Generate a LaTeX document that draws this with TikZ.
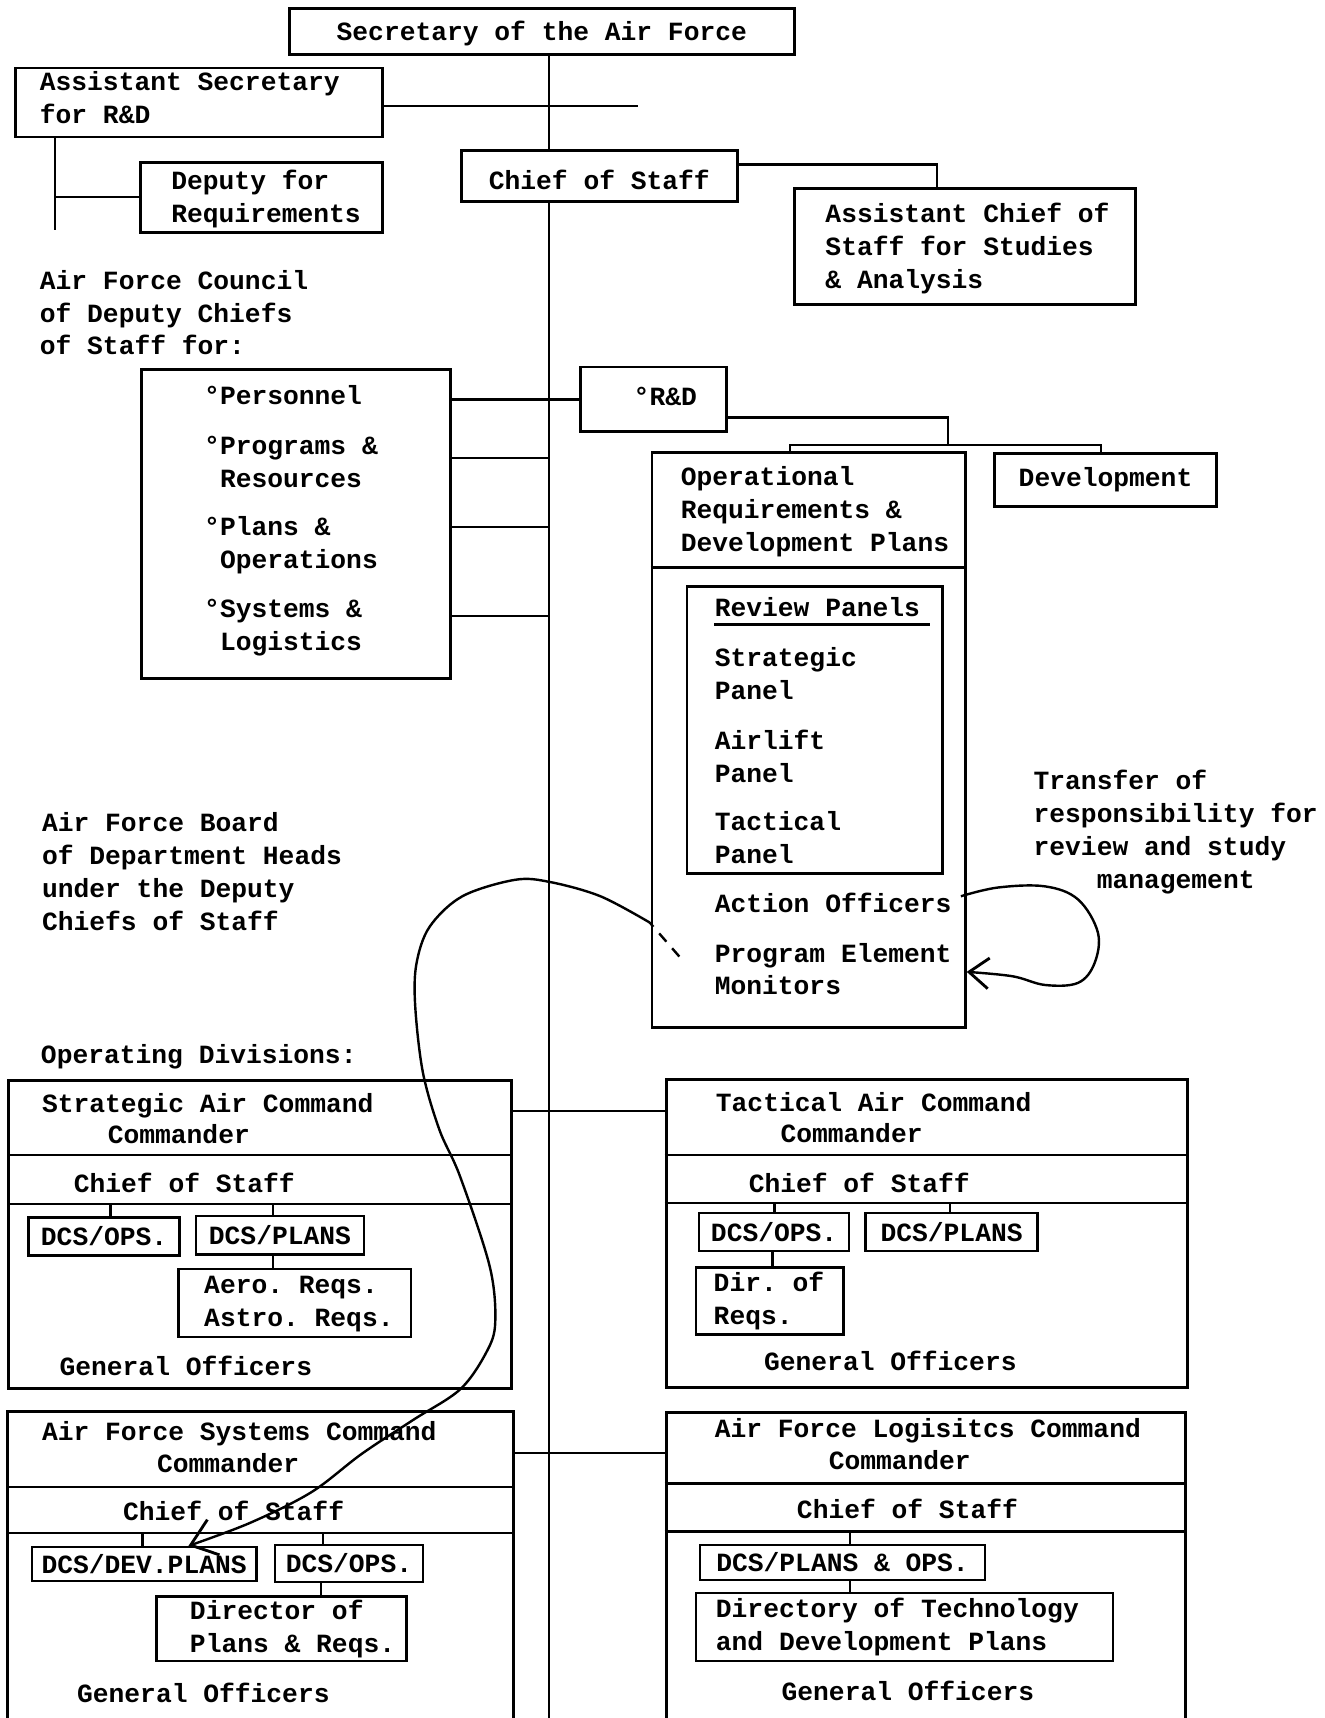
\documentclass[tikz,border=0pt]{standalone}
\usepackage{fontspec}
\setmonofont{Liberation Mono}
\usetikzlibrary{fit,arrows.meta}
\newcommand\ml[1]{\vtop{\halign{##\hfil\cr#1\crcr}}}
\begin{document}
\begin{tikzpicture}[x=0.5pt,y=-0.5pt,
  every node/.style={font=\ttfamily\bfseries\fontsize{12}{15}\selectfont},
  box/.style={draw, line width=1.3pt, inner sep=0pt},
  sbox/.style={draw, line width=1.1pt, inner sep=0pt},
  lbl/.style={anchor=base west, inner sep=0pt},
  ctr/.style={anchor=center, inner sep=0pt},
  conn/.style={line width=1.1pt},
  divl/.style={line width=1.2pt}]
\useasboundingbox (0,0) rectangle (1209,1568);
\fill[white] (0,0) rectangle (1209,1568);
\clip (0,0) rectangle (1209,1568);

% ---------- boxes ----------
\node[box, fit={(264,8) (725,50)}] (sec) {};
\node[box, fit={(14,62) (349,125)}] (asr) {};
\node[box, fit={(128,148) (349,212)}] (dep) {};
\node[box, fit={(421,137) (673,184)}] (cos) {};
\node[box, fit={(725,172) (1036,278)}] (acs) {};
\node[box, fit={(129,337) (411,619)}] (council) {};
\node[box, fit={(530,335) (663,394)}] (rd) {};
\node[box, fit={(595,413) (881,938)}] (ordp) {};
\node[box, fit={(908,414) (1110,462)}] (dev) {};
\node[box, fit={(627,535) (860,797)}] (panels) {};
\node[box, fit={(8,986) (467,1267)}] (sac) {};
\node[box, fit={(608,985) (1084,1266)}] (tac) {};
\node[box, fit={(7,1288) (469,1590)}] (afsc) {};
\node[box, fit={(608,1289) (1082,1590)}] (aflc) {};

\node[sbox, fit={(26,1111) (164,1146)}] (sacops) {};
\node[sbox, fit={(179,1110) (332,1145)}] (sacplans) {};
\node[sbox, fit={(163,1158) (375,1220)}] (aero) {};
\node[sbox, fit={(638,1107) (775,1142)}] (tacops) {};
\node[sbox, fit={(790,1107) (947,1142)}] (tacplans) {};
\node[sbox, fit={(635,1157) (770,1218)}] (dirreq) {};
\node[sbox, fit={(29,1412) (234,1443)}] (devplans) {};
\node[sbox, fit={(251,1410) (386,1444)}] (afscops) {};
\node[sbox, fit={(143,1457) (371,1516)}] (director) {};
\node[sbox, fit={(639,1410) (899,1442)}] (plansops) {};
\node[sbox, fit={(635,1454) (1016,1516)}] (directory) {};

% ---------- centred box texts ----------
\node[ctr] (tsec) at ([yshift=-1pt]sec.center) {Secretary of the Air Force};
\node[ctr] (tcos) at ([yshift=-2pt]cos.center) {Chief of Staff};
\node[ctr] (tdev) at (dev.center) {Development};
\node[ctr] (tsacops) at (sacops.center) {DCS/OPS.};
\node[ctr] (tsacplans) at (sacplans.center) {DCS/PLANS};
\node[ctr] (ttacops) at (tacops.center) {DCS/OPS.};
\node[ctr] (ttacplans) at (tacplans.center) {DCS/PLANS};
\node[ctr] (tdevplans) at (devplans.center) {DCS/DEV.PLANS};
\node[ctr] (tafscops) at (afscops.center) {DCS/OPS.};
\node[ctr] (tplansops) at (plansops.center) {DCS/PLANS \& OPS.};

% ---------- texts ----------
\node[lbl] (tasr) at (36,83) {\ml{Assistant Secretary\cr for R\&D}};
\node[lbl] (tdep) at (156,173) {\ml{Deputy for\cr Requirements}};
\node[lbl] (tacs) at (753,203) {\ml{Assistant Chief of\cr Staff for Studies\cr \& Analysis}};
\node[lbl] (tcouncil) at (36,264) {\ml{Air Force Council\cr of Deputy Chiefs\cr of Staff for:}};
\node[lbl] (tpers) at (186,369) {°Personnel};
\node[lbl] (tprog) at (186,415) {\ml{°Programs \&\cr\phantom{°}Resources}};
\node[lbl] (tplans) at (186,489) {\ml{°Plans \&\cr\phantom{°}Operations}};
\node[lbl] (tsys) at (186,564) {\ml{°Systems \&\cr\phantom{°}Logistics}};
\node[lbl] (trd) at (578,370) {°R\&D};
\node[lbl] (tordp) at (621,443) {\ml{Operational\cr Requirements \&\cr Development Plans}};
\node[lbl] (trev) at (652,563) {Review Panels};
\node[lbl] (tstrat) at (652,608) {\ml{Strategic\cr Panel}};
\node[lbl] (tair) at (652,684) {\ml{Airlift\cr Panel}};
\node[lbl] (ttact) at (652,758) {\ml{Tactical\cr Panel}};
\node[lbl] (tao) at (652,833) {Action Officers};
\node[lbl] (tpem) at (652,878) {\ml{Program Element\cr Monitors}};
\node[lbl] (ttrans) at (943,721) {\ml{Transfer of\cr responsibility for\cr review and study\cr \phantom{xxxx}management}};
\node[lbl] (tboard) at (38,759) {\ml{Air Force Board\cr of Department Heads\cr under the Deputy\cr Chiefs of Staff}};
\node[lbl] (topdiv) at (37,971) {Operating Divisions:};

\node[lbl] (tsac1) at (38,1015) {Strategic Air Command};
\node[lbl] (tsac2) at (98,1044) {Commander};
\node[lbl] (tsac3) at (67,1088) {Chief of Staff};
\node[lbl] (tsac4) at (54,1255) {General Officers};
\node[lbl] (taero) at (186,1181) {\ml{Aero. Reqs.\cr Astro. Reqs.}};

\node[lbl] (ttac1) at (653,1014) {Tactical Air Command};
\node[lbl] (ttac2) at (712,1043) {Commander};
\node[lbl] (ttac3) at (683,1088) {Chief of Staff};
\node[lbl] (ttac4) at (697,1251) {General Officers};
\node[lbl] (tdirreq) at (651,1179) {\ml{Dir. of\cr Reqs.}};

\node[lbl] (tafsc1) at (38,1315) {Air Force Systems Command};
\node[lbl] (tafsc2) at (143,1344) {Commander};
\node[lbl] (tafsc3) at (112,1388) {Chief of Staff};
\node[lbl] (tafsc4) at (70,1554) {General Officers};
\node[lbl] (tdirector) at (173,1478) {\ml{Director of\cr Plans \& Reqs.}};

\node[lbl] (taflc1) at (652,1312) {Air Force Logisitcs Command};
\node[lbl] (taflc2) at (756,1341) {Commander};
\node[lbl] (taflc3) at (727,1386) {Chief of Staff};
\node[lbl] (taflc4) at (713,1552) {General Officers};
\node[lbl] (tdirectory) at (653,1476) {\ml{Directory of Technology\cr and Development Plans}};

% ---------- dividers ----------
\draw[divl] (ordp.west |- 0,518) -- (ordp.east |- 0,518);
\draw[divl] (sac.west |- 0,1054) -- (sac.east |- 0,1054);
\draw[divl] (sac.west |- 0,1099) -- (sac.east |- 0,1099);
\draw[divl] (tac.west |- 0,1054) -- (tac.east |- 0,1054);
\draw[divl] (tac.west |- 0,1098) -- (tac.east |- 0,1098);
\draw[divl] (afsc.west |- 0,1357) -- (afsc.east |- 0,1357);
\draw[divl] (afsc.west |- 0,1399) -- (afsc.east |- 0,1399);
\draw[divl] (aflc.west |- 0,1354) -- (aflc.east |- 0,1354);
\draw[divl] (aflc.west |- 0,1398) -- (aflc.east |- 0,1398);
\draw[line width=1.1pt] (trev.base west) ++(0,7) -- ++(197,0);

% ---------- connectors ----------
\coordinate (spinebot) at (501,1568);
\coordinate (asrend) at (582,97);
\coordinate (lvend) at (50,210);
\draw[conn] (sec.south -| spinebot) -- (cos.north -| spinebot);
\draw[conn] (cos.south -| spinebot) -- (spinebot);
\draw[conn] (asr.east |- asrend) -- (asrend);
\draw[conn] (asr.south -| lvend) -- (lvend);
\draw[conn] (dep.west) -- (dep.west -| lvend);
\draw[conn] (cos.east |- 0,150) -- (855,150) -- (855,0 |- acs.north);
\draw[conn] (council.east |- rd.west) -- (rd.west);
\draw[conn] (council.east |- 0,418) -- (spinebot |- 0,418);
\draw[conn] (council.east |- 0,481) -- (spinebot |- 0,481);
\draw[conn] (council.east |- 0,562) -- (spinebot |- 0,562);
\draw[conn] (rd.east |- 0,381) -- (865,381) -- (865,406);
\draw[conn] (721,0 |- ordp.north) -- (721,406) -- (1005,406) -- (1005,0 |- dev.north);
\draw[conn] (sac.east |- 0,1014) -- (tac.west |- 0,1014);
\draw[conn] (afsc.east |- 0,1326) -- (aflc.west |- 0,1326);

\draw[conn] (101,1099) -- (101,0 |- sacops.north);
\draw[conn] (249,1099) -- (249,0 |- sacplans.north);
\draw[conn] (249,0 |- sacplans.south) -- (249,0 |- aero.north);
\draw[conn] (707,1098) -- (707,0 |- tacops.north);
\draw[conn] (867,1098) -- (867,0 |- tacplans.north);
\draw[conn] (705,0 |- tacops.south) -- (705,0 |- dirreq.north);
\draw[conn] (130,1399) -- (130,0 |- devplans.north);
\draw[conn] (295,1399) -- (295,0 |- afscops.north);
\draw[conn] (293,0 |- afscops.south) -- (293,0 |- director.north);
\draw[conn] (776,1398) -- (776,0 |- plansops.north);
\draw[conn] (776,0 |- plansops.south) -- (776,0 |- directory.north);

% ---------- transfer arrows ----------
\coordinate (tailA) at (620,873);
\coordinate (tailB) at (593,842);
\draw[conn, dash pattern=on 5pt off 4pt] (tailA) -- (tailB);
\draw[conn, -{Straight Barb[length=11pt,width=17pt,line width=1.3pt]}]
  plot[smooth, tension=0.55] coordinates {(tailB) (548,818) (502,805) (470,803) (422,818) (392,846) (380,880) (379,919) (386,979) (401,1031) (420,1074) (447,1156) (452,1207) (444,1234) (420,1268) (377,1296) (330,1327) (284,1362) (228,1390) (devplans.north -| 172,0)};
\coordinate (aoend) at (877,818);
\draw[conn, -{Straight Barb[length=9pt,width=14pt,line width=1.3pt]}]
  plot[smooth, tension=0.6] coordinates {(aoend) (911,810) (954,809) (984,821) (1002,851) (999,879) (984,897) (954,899) (924,891) (ordp.east |- 0,887)};
\end{tikzpicture}
\end{document}
